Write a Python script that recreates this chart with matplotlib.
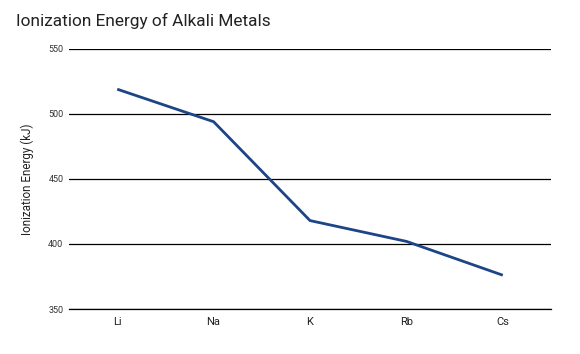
import numpy as np
import matplotlib.pyplot as plt

elements = ["Li", "Na", "K", "Rb", "Cs"]
energy = [519, 494, 418, 402, 376]
yticks = [350, 400, 450, 500, 550]

plt.rcParams['font.family'] = ['Roboto', 'DejaVu Sans']

fig = plt.figure(figsize=(5.8, 3.54), dpi=100)
ax = fig.add_axes([0.119, 0.127, 0.831, 0.735])

x = np.arange(len(elements))
ax.plot(x, energy, color='#1c4587', lw=2.0, solid_capstyle='butt', zorder=3)

ax.set_xlim(-0.5, len(elements) - 0.5)
ax.set_ylim(350, 550)
ax.set_yticks(yticks)
ax.set_xticks(x)
ax.set_xticklabels(elements, fontsize=8, color='#222222')
ax.tick_params(axis='y', labelsize=6.5, length=0, pad=4, colors='#333333')
ax.tick_params(axis='x', length=0, pad=6)
ax.grid(axis='y', color='black', lw=0.9)
ax.set_axisbelow(True)
for s in ax.spines.values():
    s.set_visible(False)
ax.spines['bottom'].set_visible(True)
ax.spines['bottom'].set_color('black')
ax.spines['bottom'].set_linewidth(0.9)

ax.set_ylabel('Ionization Energy (kJ)', fontsize=8.4, color='#222222', labelpad=10)
fig.text(0.028, 0.94, 'Ionization Energy of Alkali Metals', fontsize=12.4,
         color='#222222', va='center', ha='left')

fig.savefig('out.png', dpi=100)
